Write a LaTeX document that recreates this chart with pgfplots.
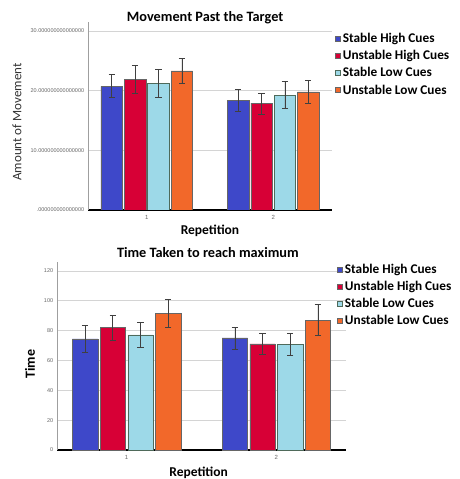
\documentclass[border=0pt]{standalone}
\usepackage{pgfplots}
\pgfplotsset{compat=1.18}
\usepackage{fontspec}
\setmainfont{Carlito}
\newfontfamily\arialfont{Liberation Sans}
\definecolor{cBlue}{HTML}{3E48C9}
\definecolor{cRed}{HTML}{D70036}
\definecolor{cLBlue}{HTML}{9DD9E8}
\definecolor{cOrange}{HTML}{F2682A}
\definecolor{cGrid}{HTML}{D4D4D4}
\definecolor{cLBEdge}{HTML}{4F6A5A}
\pgfplotsset{
  every axis title shift=0pt,
  mybars/.style={
    scale only axis, height=188pt,
    ybar, bar width=0.17,
    xmin=0.535, xmax=2.465, ymin=0,
    axis lines=left,
    axis line style={-},
    x axis line style={black, line width=1.6pt},
    y axis line style={gray!75, line width=0.8pt},
    ymajorgrids, grid style={cGrid, line width=0.7pt},
    tick style={draw=none},
    xtick={1,2}, xticklabels={1,2},
    tick label style={font=\arialfont\fontsize{5.5}{6}\selectfont, text=black!60},
    xticklabel style={font=\arialfont\fontsize{6}{7}\selectfont, yshift=-1.5pt},
    every tick label/.append style={inner sep=1.5pt},
    title style={font=\bfseries\fontsize{14.3}{16}\selectfont},
    xlabel style={font=\bfseries\fontsize{13.5}{15}\selectfont, anchor=center},
    legend style={draw=none, fill=none, inner sep=0pt, anchor=north west,
      font=\bfseries\fontsize{13.3}{15}\selectfont, row sep=2.2pt,
      legend cell align=left, cells={anchor=west}},
    legend image code/.code={\draw[##1, line width=0.5pt] (0pt,-2.6pt) rectangle (5.2pt,2.6pt);},
    every axis plot/.append style={line width=0.5pt,
      error bars/y dir=both, error bars/y explicit,
      error bars/error bar style={black!75, line width=0.6pt},
      error bars/error mark options={black!75, line width=0.6pt, mark size=3.2pt, rotate=90}},
  },
  sA/.style={fill=cBlue, draw=black!60, bar shift=-0.2775},
  sB/.style={fill=cRed, draw=black!60, bar shift=-0.0925},
  sC/.style={fill=cLBlue, draw=cLBEdge, bar shift=0.0925},
  sD/.style={fill=cOrange, draw=black!60, bar shift=0.2775},
}
\begin{document}
\begin{tikzpicture}
\useasboundingbox (0,0) rectangle (459pt,479pt);
% Top chart
\begin{axis}[mybars, at={(88pt,269pt)}, anchor=south west, width=244pt,
  ymax=31.5, ytick={0,10,20,30},
  yticklabels={.000000000000000,10.000000000000000,20.000000000000000,30.000000000000000},
  title={Movement Past the Target}, title style={at={(axis description cs:0.48,1.021)}, anchor=center},
  xlabel={Repetition}, xlabel style={at={(axis description cs:0.5,-0.112)}},
  ylabel={Amount of Movement},
  ylabel style={at={(axis description cs:-0.291,0.468)}, anchor=center, font=\fontsize{13}{15}\selectfont, text=black!80},
  legend style={at={(axis description cs:1.012,0.950)}},
]
\addplot[sA] coordinates {(1,20.7) += (0,2.0) -= (0,1.9) (2,18.4) += (0,1.8) -= (0,1.8)};
\addplot[sB] coordinates {(1,21.9) += (0,2.3) -= (0,2.3) (2,17.9) += (0,1.7) -= (0,1.8)};
\addplot[sC] coordinates {(1,21.2) += (0,2.4) -= (0,2.3) (2,19.2) += (0,2.3) -= (0,2.2)};
\addplot[sD] coordinates {(1,23.3) += (0,2.1) -= (0,2.1) (2,19.8) += (0,1.9) -= (0,2.0)};
\legend{Stable High Cues, Unstable High Cues, Stable Low Cues, Unstable Low Cues}
\end{axis}
% Bottom chart
\begin{axis}[mybars, at={(57pt,29pt)}, anchor=south west, width=289pt,
  ymax=126, ytick={0,20,40,60,80,100,120},
  yticklabels={0,20,40,60,80,100,120},
  title={Time Taken to reach maximum}, title style={at={(axis description cs:0.522,1.048)}, anchor=center},
  xlabel={Repetition}, xlabel style={at={(axis description cs:0.49,-0.122)}},
  ylabel={Time},
  ylabel style={at={(axis description cs:-0.093,0.457)}, anchor=center, font=\bfseries\fontsize{14}{16}\selectfont},
  legend style={at={(axis description cs:0.969,1.0)}},
]
\addplot[sA] coordinates {(1,74.5) += (0,9.2) -= (0,9.1) (2,75.2) += (0,7.3) -= (0,7.4)};
\addplot[sB] coordinates {(1,82.1) += (0,8.3) -= (0,8.5) (2,71.2) += (0,6.9) -= (0,7.2)};
\addplot[sC] coordinates {(1,77.2) += (0,8.2) -= (0,8.1) (2,70.7) += (0,7.4) -= (0,7.3)};
\addplot[sD] coordinates {(1,91.7) += (0,9.2) -= (0,9.6) (2,87.0) += (0,10.5) -= (0,10.2)};
\legend{Stable High Cues, Unstable High Cues, Stable Low Cues, Unstable Low Cues}
\end{axis}
\end{tikzpicture}
\end{document}
